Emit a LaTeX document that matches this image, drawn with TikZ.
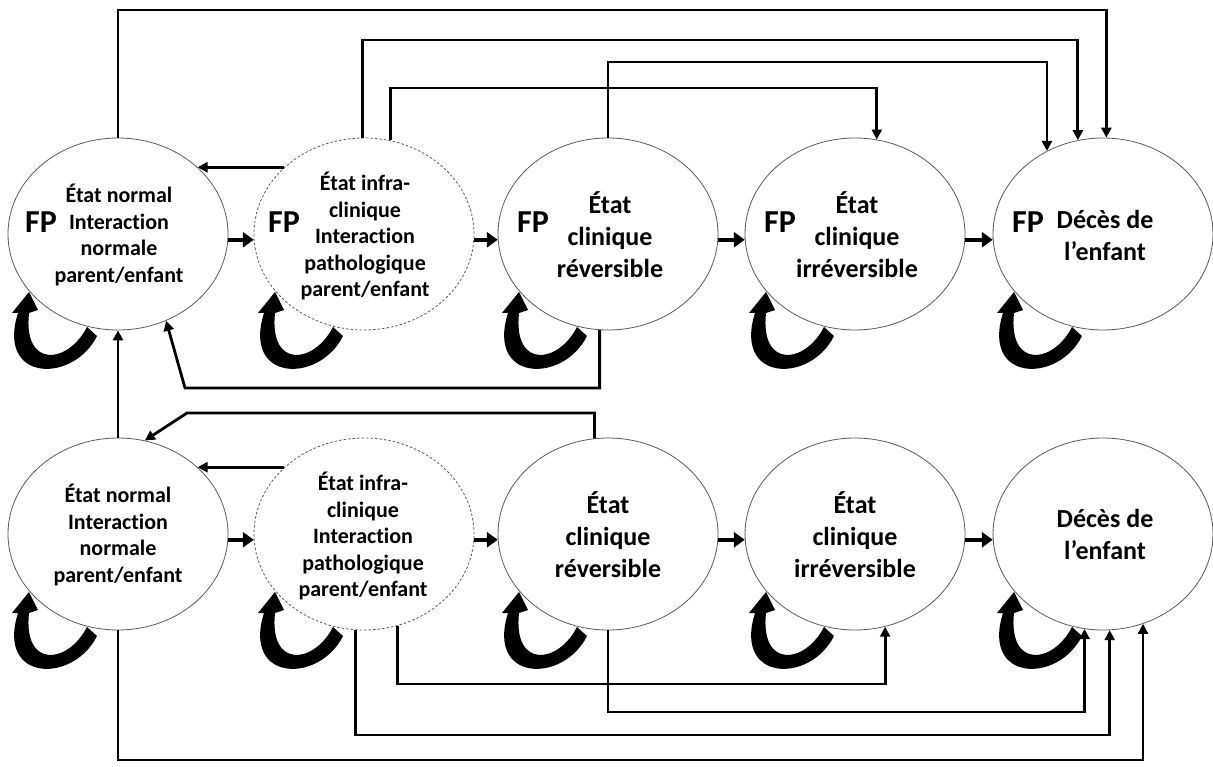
\documentclass[tikz,border=0pt]{standalone}
\usepackage{fontspec}
\setmainfont{Carlito}[Ligatures={NoCommon}]
\usetikzlibrary{arrows.meta,shapes.geometric,calc}
\tikzset{
 st/.style={ellipse, draw=black!65, line width=0.8pt, minimum width=220pt, minimum height=192pt, inner sep=0pt},
 stdash/.style={st, dash pattern=on 2.5pt off 2pt},
 txs/.style={align=center, inner sep=0pt, font=\fontsize{22}{26.5}\selectfont\bfseries},
 txl/.style={align=center, inner sep=0pt, font=\fontsize{26}{32}\selectfont\bfseries},
 fp/.style={inner sep=0pt, font=\fontsize{32}{34}\selectfont\bfseries},
 conn/.style={line width=2.8pt, -{Triangle[length=10pt,width=10pt]}},
 fwd/.style={line width=4.2pt, -{Triangle[length=11pt,width=15pt]}},
}
\newcommand\selfloop[1]{%
 \fill[shift={(#1.center)}] (-21,102) .. controls (-45,150) and (-122,148) .. (-100,79)
   -- (-106,79) -- (-89,58) -- (-80,76) -- (-89,79)
   .. controls (-95,135) and (-50,130) .. (-31,93) -- cycle;}
\begin{document}
\begin{tikzpicture}[x=1pt,y=-1pt]
\useasboundingbox (0,0) rectangle (1213,767);
% top row
\node[st] (e1t) at (118,234) {};
\node[stdash] (e2t) at (364,234) {};
\node[st] (e3t) at (608,234) {};
\node[st] (e4t) at (855,234) {};
\node[st] (e5t) at (1103,234) {};
% bottom row
\node[st] (e1b) at (118,534) {};
\node[stdash] (e2b) at (364,534) {};
\node[st] (e3b) at (608,534) {};
\node[st] (e4b) at (855,534) {};
\node[st] (e5b) at (1103,534) {};
% texts top
\node[txs] (t1t) at ($(e1t.center)+(1,1)$) {État normal\\Interaction\\normale\\parent/enfant};
\node[txs] (t2t) at ($(e2t.center)+(1,2)$) {État infra-\\clinique\\Interaction\\pathologique\\parent/enfant};
\node[txl] (t3t) at ($(e3t.center)+(2,1)$) {État\\clinique\\réversible};
\node[txl] (t4t) at ($(e4t.center)+(2,1)$) {État\\clinique\\irréversible};
\node[txl] (t5t) at ($(e5t.center)+(2,1)$) {Décès de\\l’enfant};
\node[fp] (f1t) at ($(e1t.center)+(-77,-12)$) {FP};
\node[fp] (f2t) at ($(e2t.center)+(-80,-12)$) {FP};
\node[fp] (f3t) at ($(e3t.center)+(-75,-12)$) {FP};
\node[fp] (f4t) at ($(e4t.center)+(-75,-12)$) {FP};
\node[fp] (f5t) at ($(e5t.center)+(-75,-12)$) {FP};
% texts bottom
\node[txs] (t1b) at ($(e1b.center)+(0,1)$) {État normal\\Interaction\\normale\\parent/enfant};
\node[txs] (t2b) at ($(e2b.center)+(-1,2)$) {État infra-\\clinique\\Interaction\\pathologique\\parent/enfant};
\node[txl] (t3b) at ($(e3b.center)+(0,1)$) {État\\clinique\\réversible};
\node[txl] (t4b) at ($(e4b.center)+(0,1)$) {État\\clinique\\irréversible};
\node[txl] (t5b) at ($(e5b.center)+(2,0)$) {Décès de\\l’enfant};
% self loops
\foreach \n in {e1t,e2t,e3t,e4t,e5t,e1b,e2b,e3b,e4b,e5b} {\selfloop{\n}}
% forward arrows
\foreach \a/\b in {e1t/e2t,e2t/e3t,e3t/e4t,e4t/e5t,e1b/e2b,e2b/e3b,e3b/e4b,e4b/e5b}
  {\draw[fwd] (\a.-3) -- (\b.183);}
% top connectors
\draw[conn] (e1t.north) -- (e1t.north |- 0,10) -| (e5t.88);
\draw[conn] (e2t.91) -- (e2t.91 |- 0,40) -| (e5t.105);
\draw[conn] (e3t.north) -- (e3t.north |- 0,62) -| (e5t.124);
\draw[conn] (e2t.74) -- (e2t.74 |- 0,88) -| (e4t.77);
\draw[conn] (e2t.140) -- (e1t.40);
\coordinate (r1) at (185,388);
\draw[conn] (e3t.265) -- (e3t.265 |- r1) -- (r1) -- (e1t.-61);
% vertical between rows
\draw[conn] (e1b.north) -- (e1t.south);
% bottom row back connectors
\coordinate (r2) at (187,413);
\draw[conn] (e3b.98) -- (e3b.98 |- r2) -- (r2) -- (e1b.74);
\draw[conn] (e2b.140) -- (e1b.40);
% bottom connectors
\draw[conn] (e2b.-70) -- (e2b.-70 |- 0,684) -| (e4b.-72);
\draw[conn] (e3b.south) -- (e3b.south |- 0,712) -| (e5b.-101);
\draw[conn] (e2b.-95) -- (e2b.-95 |- 0,735) -| (e5b.-86);
\draw[conn] (e1b.south) -- (e1b.south |- 0,760) -| (e5b.-66);
\end{tikzpicture}
\end{document}
